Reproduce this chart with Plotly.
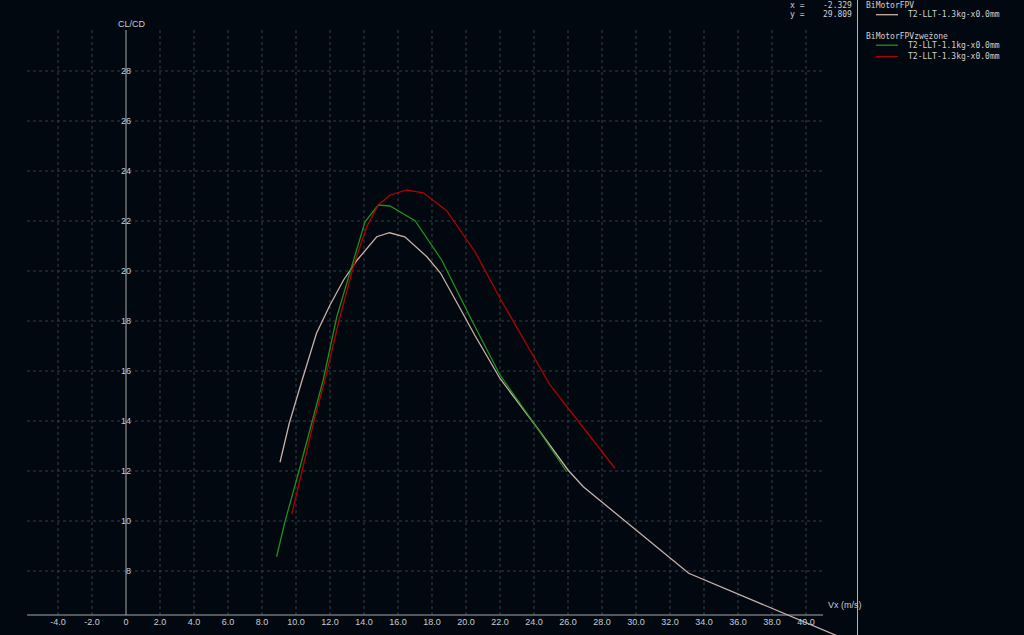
import plotly.graph_objects as go

# ---------------- data ----------------
bm_x = [9.06, 9.6, 10.3, 11.2, 12.0, 12.8, 13.6, 14.75, 15.5, 16.4, 17.7, 18.5, 19.6, 20.5, 22.0, 24.0, 26.0, 26.9, 33.1, 45.0]
bm_y = [12.35, 13.9, 15.5, 17.5, 18.64, 19.64, 20.44, 21.37, 21.53, 21.37, 20.57, 19.92, 18.57, 17.45, 15.7, 13.9, 12.04, 11.37, 7.91, 4.5]

g_x = [8.86, 9.35, 10.14, 10.92, 11.6, 12.4, 13.1, 14.06, 14.84, 15.53, 17.0, 18.57, 20.33, 22.0, 24.0, 25.92]
g_y = [8.57, 9.97, 11.91, 13.91, 15.64, 18.17, 19.77, 21.97, 22.64, 22.6, 22.01, 20.44, 18.04, 15.84, 13.91, 11.97]

r_x = [9.75, 10.34, 11.02, 11.7, 12.49, 13.37, 14.16, 14.84, 15.53, 16.51, 17.49, 18.86, 20.53, 22.0, 23.96, 24.94, 26.7, 28.76]
r_y = [10.27, 11.91, 13.91, 15.64, 17.91, 20.17, 21.77, 22.64, 23.04, 23.24, 23.13, 22.41, 20.77, 18.91, 16.57, 15.44, 13.91, 12.11]

x_ticks = [-4, -2, 0, 2, 4, 6, 8, 10, 12, 14, 16, 18, 20, 22, 24, 26, 28, 30, 32, 34, 36, 38, 40]
x_ticktext = ["0" if v == 0 else f"{v:.1f}" for v in x_ticks]
y_ticks = [8, 10, 12, 14, 16, 18, 20, 22, 24, 26, 28]

series_names = ["T2-LLT-1.3kg-x0.0mm", "T2-LLT-1.1kg-x0.0mm", "T2-LLT-1.3kg-x0.0mm"]
group_titles = ["BiMotorFPV", "BiMotorFPVzwężone"]
series_colors = ["#c8b0a8", "#1f8f1f", "#b00000"]

# axis geometry (data units)
X_MIN, X_MAX = -7.4118, 43.0
Y_MIN, Y_MAX = 5.44, 30.84
X_AXIS_Y = 6.24
GRID_X0, GRID_X1 = -5.82, 41.0
GRID_TOP = 29.64

W, H = 1024, 635
BG = "#02080f"
GRID = "#363e48"
AXIS = "#a8a8a8"
TXT = "#c4ccd8"
LEG = "#d0d0d0"
MONO = "DejaVu Sans Mono"


def px(xp):
    return xp / W


def py(yp):
    return (H - yp) / H


fig = go.Figure()
for xs, ys, nm, col in zip([bm_x, g_x, r_x], [bm_y, g_y, r_y], series_names, series_colors):
    fig.add_trace(go.Scatter(x=xs, y=ys, mode="lines", name=nm,
                             line=dict(color=col, width=1.3), showlegend=False))

shapes = []
for v in x_ticks:
    if v == 0:
        continue
    shapes.append(dict(type="line", xref="x", yref="y", x0=v, x1=v, y0=X_AXIS_Y, y1=GRID_TOP,
                       line=dict(color=GRID, width=1, dash="dot"), layer="below"))
for v in y_ticks:
    shapes.append(dict(type="line", xref="x", yref="y", x0=GRID_X0, x1=GRID_X1, y0=v, y1=v,
                       line=dict(color=GRID, width=1, dash="dot"), layer="below"))
# axes lines
shapes.append(dict(type="line", xref="x", yref="y", x0=GRID_X0, x1=GRID_X1, y0=X_AXIS_Y, y1=X_AXIS_Y,
                   line=dict(color=AXIS, width=1), layer="below"))
shapes.append(dict(type="line", xref="x", yref="y", x0=0, x1=0, y0=X_AXIS_Y, y1=GRID_TOP,
                   line=dict(color=AXIS, width=1), layer="below"))
# separator between plot and legend
shapes.append(dict(type="line", xref="paper", yref="paper", x0=px(857.5), x1=px(857.5), y0=0, y1=1,
                   line=dict(color="#b4b4b4", width=1)))

annotations = [
    dict(text="CL/CD", xref="x", yref="paper", x=0.35, y=py(24), showarrow=False,
         font=dict(family="Liberation Sans", size=9, color=TXT), xanchor="center", yanchor="middle"),
    dict(text="Vx (m/s)", xref="paper", yref="paper", x=px(826), y=py(605), showarrow=False,
         font=dict(family="Liberation Sans", size=9, color=TXT), xanchor="left", yanchor="middle"),
    dict(text="x =", xref="paper", yref="paper", x=px(788), y=py(5.5), showarrow=False,
         font=dict(family=MONO, size=8, color=LEG), xanchor="left", yanchor="middle"),
    dict(text="y =", xref="paper", yref="paper", x=px(788), y=py(14.7), showarrow=False,
         font=dict(family=MONO, size=8, color=LEG), xanchor="left", yanchor="middle"),
    dict(text="-2.329", xref="paper", yref="paper", x=px(854), y=py(5.5), showarrow=False,
         font=dict(family=MONO, size=8, color=LEG), xanchor="right", yanchor="middle"),
    dict(text="29.809", xref="paper", yref="paper", x=px(854), y=py(14.7), showarrow=False,
         font=dict(family=MONO, size=8, color=LEG), xanchor="right", yanchor="middle"),
]

# legend (drawn manually to match compact layout)
title_rows = [5.5, 36.5]
item_rows = [14.7, 45.2, 56.5]
for t, yr in zip(group_titles, title_rows):
    annotations.append(dict(text=t, xref="paper", yref="paper", x=px(864), y=py(yr), showarrow=False,
                            font=dict(family=MONO, size=8, color=LEG), xanchor="left", yanchor="middle"))
for nm, col, yr in zip(series_names, series_colors, item_rows):
    shapes.append(dict(type="line", xref="paper", yref="paper", x0=px(876), x1=px(898), y0=py(yr), y1=py(yr),
                       line=dict(color=col, width=1.3)))
    annotations.append(dict(text=nm, xref="paper", yref="paper", x=px(906), y=py(yr), showarrow=False,
                            font=dict(family=MONO, size=8, color=LEG), xanchor="left", yanchor="middle"))

fig.update_layout(
    width=W, height=H,
    margin=dict(l=0, r=0, t=0, b=0),
    paper_bgcolor=BG, plot_bgcolor=BG,
    shapes=shapes, annotations=annotations,
    showlegend=False,
    xaxis=dict(domain=[0, 857 / W], range=[X_MIN, X_MAX], anchor="free",
               position=(X_AXIS_Y - Y_MIN) / (Y_MAX - Y_MIN),
               tickvals=x_ticks, ticktext=x_ticktext, showgrid=False, zeroline=False,
               showline=False, ticks="", tickfont=dict(family="Liberation Sans", size=9, color=TXT)),
    yaxis=dict(domain=[0, 1], range=[Y_MIN, Y_MAX], anchor="free", position=131 / W,
               tickvals=y_ticks, ticktext=[str(v) for v in y_ticks], showgrid=False, zeroline=False,
               showline=False, ticks="", tickfont=dict(family="Liberation Sans", size=9, color=TXT)),
)

fig.write_html("out.html", config={"displayModeBar": False},
               post_script="document.body.style.margin='0';document.body.style.background='%s';" % BG)
